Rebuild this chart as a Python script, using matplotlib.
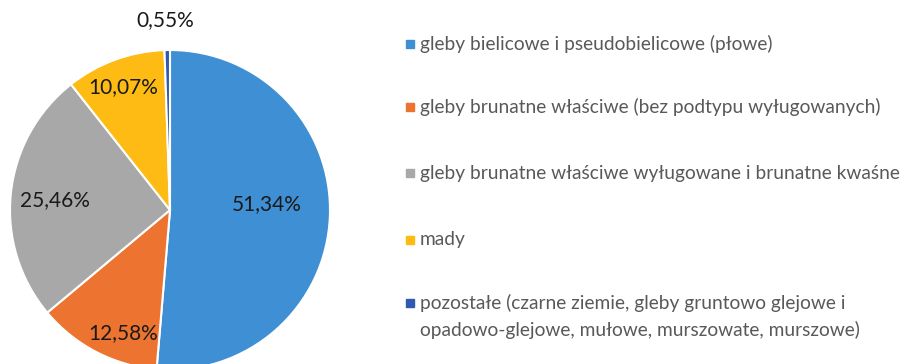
import matplotlib
matplotlib.use("Agg")
import matplotlib.pyplot as plt
from matplotlib.patches import Rectangle

plt.rcParams['font.family'] = ['Lato', 'DejaVu Sans']

# dane
categories = [
    "gleby bielicowe i pseudobielicowe (płowe)",
    "gleby brunatne właściwe (bez podtypu wyługowanych)",
    "gleby brunatne właściwe wyługowane i brunatne kwaśne",
    "mady",
    "pozostałe (czarne ziemie, gleby gruntowo glejowe i\nopadowo-glejowe, mułowe, murszowate, murszowe)",
]
values = [51.34, 12.58, 25.46, 10.07, 0.55]
labels = ["51,34%", "12,58%", "25,46%", "10,07%", "0,55%"]
colors = ["#3f8fd4", "#ed7430", "#a8a8a8", "#fdbb14", "#2f5ab0"]

W, H = 919, 364
fig = plt.figure(figsize=(W / 100, H / 100), dpi=100)
ax = fig.add_axes([0, 0, 1, 1])
ax.axis('off')

cx, cy, r = 170, H - 210, 160
wedges, _ = ax.pie(values, colors=colors, startangle=90, counterclock=False,
                   center=(cx, cy), radius=r,
                   wedgeprops=dict(edgecolor='white', linewidth=1.5))
ax.set_xlim(0, W)
ax.set_ylim(0, H)
ax.set_aspect('equal')

# etykiety procentowe
label_pos = [(267, 204), (123, 333), (55, 200), (123, 87), (165, 20)]
for lab, (x, y) in zip(labels, label_pos):
    ax.text(x, H - y, lab, ha='center', va='center', fontsize=15, color='#1a1a1a')

# legenda
leg_y = [44, 107, 173, 240, 303]
for cat, col, y in zip(categories, colors, leg_y):
    ax.add_patch(Rectangle((406, H - y - 4), 8, 8, color=col))
    lines = cat.split("\n")
    for k, line in enumerate(lines):
        ax.text(420, H - y - 27 * k, line, ha='left', va='center',
                fontsize=13.8, color='#595959')

fig.savefig("out.png", dpi=100, facecolor='white')
